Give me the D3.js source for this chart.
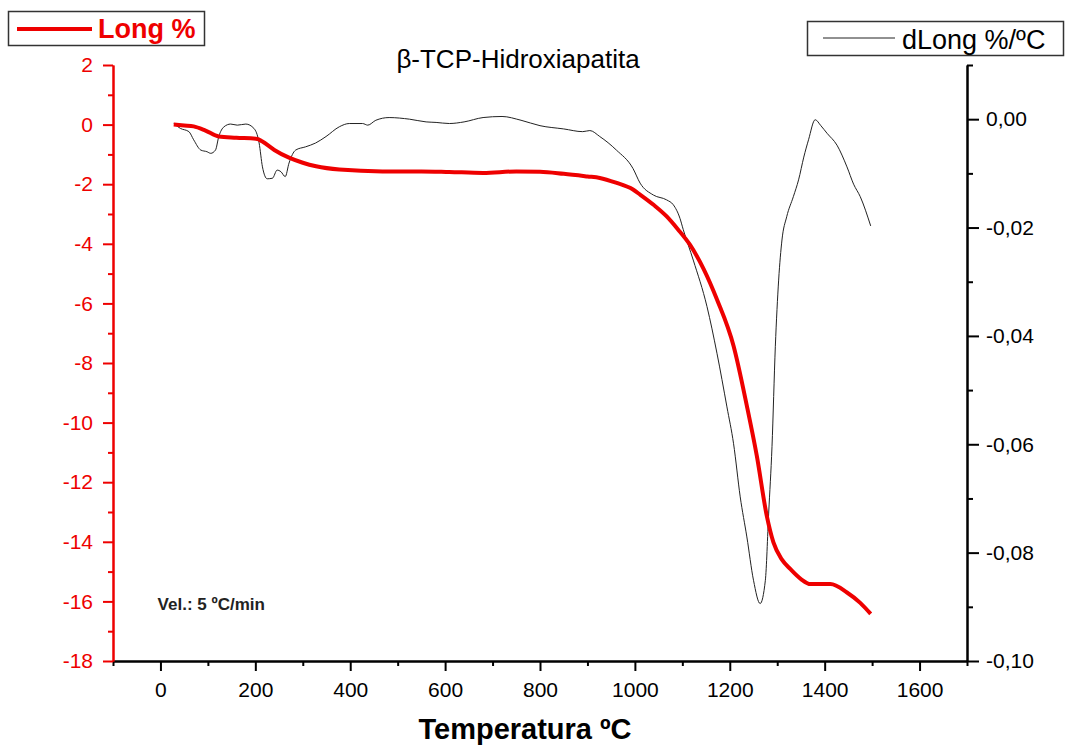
<!DOCTYPE html>
<html>
<head>
<meta charset="utf-8">
<script src="https://cdn.jsdelivr.net/npm/d3@7"></script>
<style>
  body { margin: 0; background: #fff; }
  svg { font-family: 'Liberation Sans', Arial, sans-serif; }
  .tick text { font-size: 21px; }
</style>
</head>
<body>
<svg id="chart" width="1065" height="747"></svg>
<script>
// temperatura (ºC) y contracción lineal (%)
const tempLong = [28, 50, 70, 95, 123, 160, 204, 214, 240, 271, 300, 328, 377, 468, 550, 609, 680, 750, 800, 850, 900, 926, 960, 996, 1011, 1040, 1067, 1090, 1116, 1145, 1173, 1208, 1236, 1257, 1278, 1292, 1310, 1328, 1350, 1370, 1412, 1447, 1475, 1497]
const longPct = [0.00, -0.03, -0.06, -0.20, -0.40, -0.44, -0.48, -0.56, -0.85, -1.11, -1.28, -1.40, -1.51, -1.57, -1.57, -1.59, -1.62, -1.57, -1.58, -1.65, -1.74, -1.79, -1.95, -2.18, -2.35, -2.70, -3.08, -3.50, -4.03, -4.85, -5.87, -7.43, -9.44, -11.12, -13.13, -14.02, -14.60, -14.92, -15.25, -15.42, -15.42, -15.70, -16.05, -16.42]

// derivada dLong %/ºC
const tempDeriv = [28, 42, 60, 70, 85, 98, 106, 116, 123, 134, 148, 162, 180, 197, 208, 215, 225, 236, 246, 254, 263, 271, 285, 306, 327, 349, 377, 398, 426, 437, 454, 482, 525, 560, 581, 609, 640, 680, 720, 760, 800, 850, 890, 905, 926, 961, 996, 1011, 1039, 1067, 1081, 1095, 1102, 1123, 1152, 1173, 1194, 1208, 1222, 1236, 1250, 1264, 1275, 1282, 1289, 1296, 1303, 1310, 1320, 1334, 1345, 1356, 1366, 1380, 1392, 1405, 1426, 1447, 1461, 1475, 1497]
const dLong = [-0.0008, -0.0017, -0.0023, -0.0038, -0.0057, -0.0060, -0.0063, -0.0057, -0.0032, -0.0014, -0.0009, -0.0011, -0.0009, -0.0017, -0.0044, -0.0088, -0.0110, -0.0109, -0.0094, -0.0097, -0.0106, -0.0081, -0.0057, -0.0051, -0.0044, -0.0032, -0.0014, -0.0008, -0.0008, -0.0011, -0.0002, 0.0003, 0.0000, -0.0005, -0.0006, -0.0008, -0.0005, 0.0003, 0.0005, -0.0002, -0.0012, -0.0018, -0.0023, -0.0021, -0.0032, -0.0057, -0.0091, -0.0118, -0.0140, -0.0149, -0.0158, -0.0183, -0.0204, -0.0260, -0.0346, -0.0432, -0.0531, -0.0599, -0.0697, -0.0771, -0.0851, -0.0894, -0.0851, -0.0727, -0.0604, -0.0420, -0.0297, -0.0223, -0.0180, -0.0143, -0.0112, -0.0070, -0.0038, -0.0001, -0.0012, -0.0026, -0.0048, -0.0088, -0.0120, -0.0143, -0.0197]

// ticks
const xTicks = [0, 200, 400, 600, 800, 1000, 1200, 1400, 1600]
const xMinor = [-100, 100, 300, 500, 700, 900, 1100, 1300, 1500, 1700]
const leftTicks = [2, 0, -2, -4, -6, -8, -10, -12, -14, -16, -18]
const leftMinor = [1, -1, -3, -5, -7, -9, -11, -13, -15, -17]
const rightTicks = [0, -0.02, -0.04, -0.06, -0.08, -0.10]
const rightMinor = [0.01, -0.01, -0.03, -0.05, -0.07, -0.09]

const red = '#ee0000'
let margin = {top: 65, right: 98, bottom: 86, left: 113}
let svg = d3.select('#chart')
let width = +svg.attr('width') - margin.left - margin.right
let height = +svg.attr('height') - margin.top - margin.bottom

let g = svg.append('g')
  .attr('transform', 'translate(' + margin.left + ',' + margin.top + ')')

let x = d3.scaleLinear().domain([-100, 1700]).range([0, width])
let yL = d3.scaleLinear().domain([-18, 2]).range([height, 0])
let yR = d3.scaleLinear().domain([-0.10, 0.01]).range([height, 0])

// ejes
function styleAxis (sel, color) {
  sel.select('.domain').attr('stroke', color).attr('stroke-width', 2)
  sel.selectAll('.tick line').attr('stroke', color).attr('stroke-width', 2)
  sel.selectAll('.tick text').attr('fill', color)
}

// x
g.append('g')
  .attr('transform', 'translate(0,' + height + ')')
  .call(d3.axisBottom(x).tickValues(xMinor).tickSize(5).tickSizeOuter(0).tickFormat(''))
  .call(styleAxis, '#000')
g.append('g')
  .attr('transform', 'translate(0,' + height + ')')
  .call(d3.axisBottom(x).tickValues(xTicks).tickSize(10).tickSizeOuter(0).tickPadding(11).tickFormat(d => String(d)))
  .call(styleAxis, '#000')

// y izquierda
g.append('g')
  .call(d3.axisLeft(yL).tickValues(leftMinor).tickSize(5).tickSizeOuter(0).tickFormat(''))
  .call(styleAxis, red)
g.append('g')
  .call(d3.axisLeft(yL).tickValues(leftTicks).tickSize(10).tickSizeOuter(0).tickPadding(10).tickFormat(d => String(d)))
  .call(styleAxis, red)

// y derecha
g.append('g')
  .attr('transform', 'translate(' + width + ',0)')
  .call(d3.axisRight(yR).tickValues(rightMinor).tickSize(6).tickSizeOuter(0).tickFormat(''))
  .call(styleAxis, '#000')
g.append('g')
  .attr('transform', 'translate(' + width + ',0)')
  .call(d3.axisRight(yR).tickValues(rightTicks).tickSize(12).tickSizeOuter(0).tickPadding(7)
    .tickFormat(d => d.toFixed(2).replace('.', ',')))
  .call(styleAxis, '#000')

// curvas
let lineL = d3.line()
  .x(function (d, i) { return x(tempLong[i]) })
  .y(function (d) { return yL(d) })
  .curve(d3.curveMonotoneX)
let lineR = d3.line()
  .x(function (d, i) { return x(tempDeriv[i]) })
  .y(function (d) { return yR(d) })
  .curve(d3.curveMonotoneX)

g.append('path')
  .datum(dLong)
  .attr('fill', 'none')
  .attr('stroke', '#222')
  .attr('stroke-width', 1)
  .attr('d', lineR)

g.append('path')
  .datum(longPct)
  .attr('fill', 'none')
  .attr('stroke', red)
  .attr('stroke-width', 4)
  .attr('stroke-linejoin', 'round')
  .attr('d', lineL)

// textos
svg.append('text')
  .attr('x', 518).attr('y', 68)
  .attr('text-anchor', 'middle')
  .attr('font-size', 26)
  .text('β-TCP-Hidroxiapatita')

svg.append('text')
  .attr('x', 525).attr('y', 739)
  .attr('text-anchor', 'middle')
  .attr('font-size', 29)
  .attr('font-weight', 'bold')
  .text('Temperatura ºC')

g.append('text')
  .attr('x', x(-6)).attr('y', yL(-16.3))
  .attr('font-size', 17)
  .attr('font-weight', 'bold')
  .attr('fill', '#222')
  .text('Vel.: 5 ºC/min')

// leyendas
let legL = svg.append('g')
legL.append('rect').attr('x', 8.5).attr('y', 11.5).attr('width', 196).attr('height', 34)
  .attr('fill', '#fff').attr('stroke', '#333').attr('stroke-width', 1.5)
legL.append('line').attr('x1', 17).attr('x2', 92).attr('y1', 29).attr('y2', 29)
  .attr('stroke', red).attr('stroke-width', 4)
legL.append('text').attr('x', 98).attr('y', 38)
  .attr('font-size', 27).attr('font-weight', 'bold').attr('fill', red)
  .text('Long %')

let legR = svg.append('g')
legR.append('rect').attr('x', 807.5).attr('y', 21.5).attr('width', 256).attr('height', 34)
  .attr('fill', '#fff').attr('stroke', '#333').attr('stroke-width', 1.5)
legR.append('line').attr('x1', 823).attr('x2', 895).attr('y1', 38).attr('y2', 38)
  .attr('stroke', '#222').attr('stroke-width', 1)
legR.append('text').attr('x', 902).attr('y', 49)
  .attr('font-size', 27)
  .text('dLong %/ºC')
</script>
</body>
</html>
